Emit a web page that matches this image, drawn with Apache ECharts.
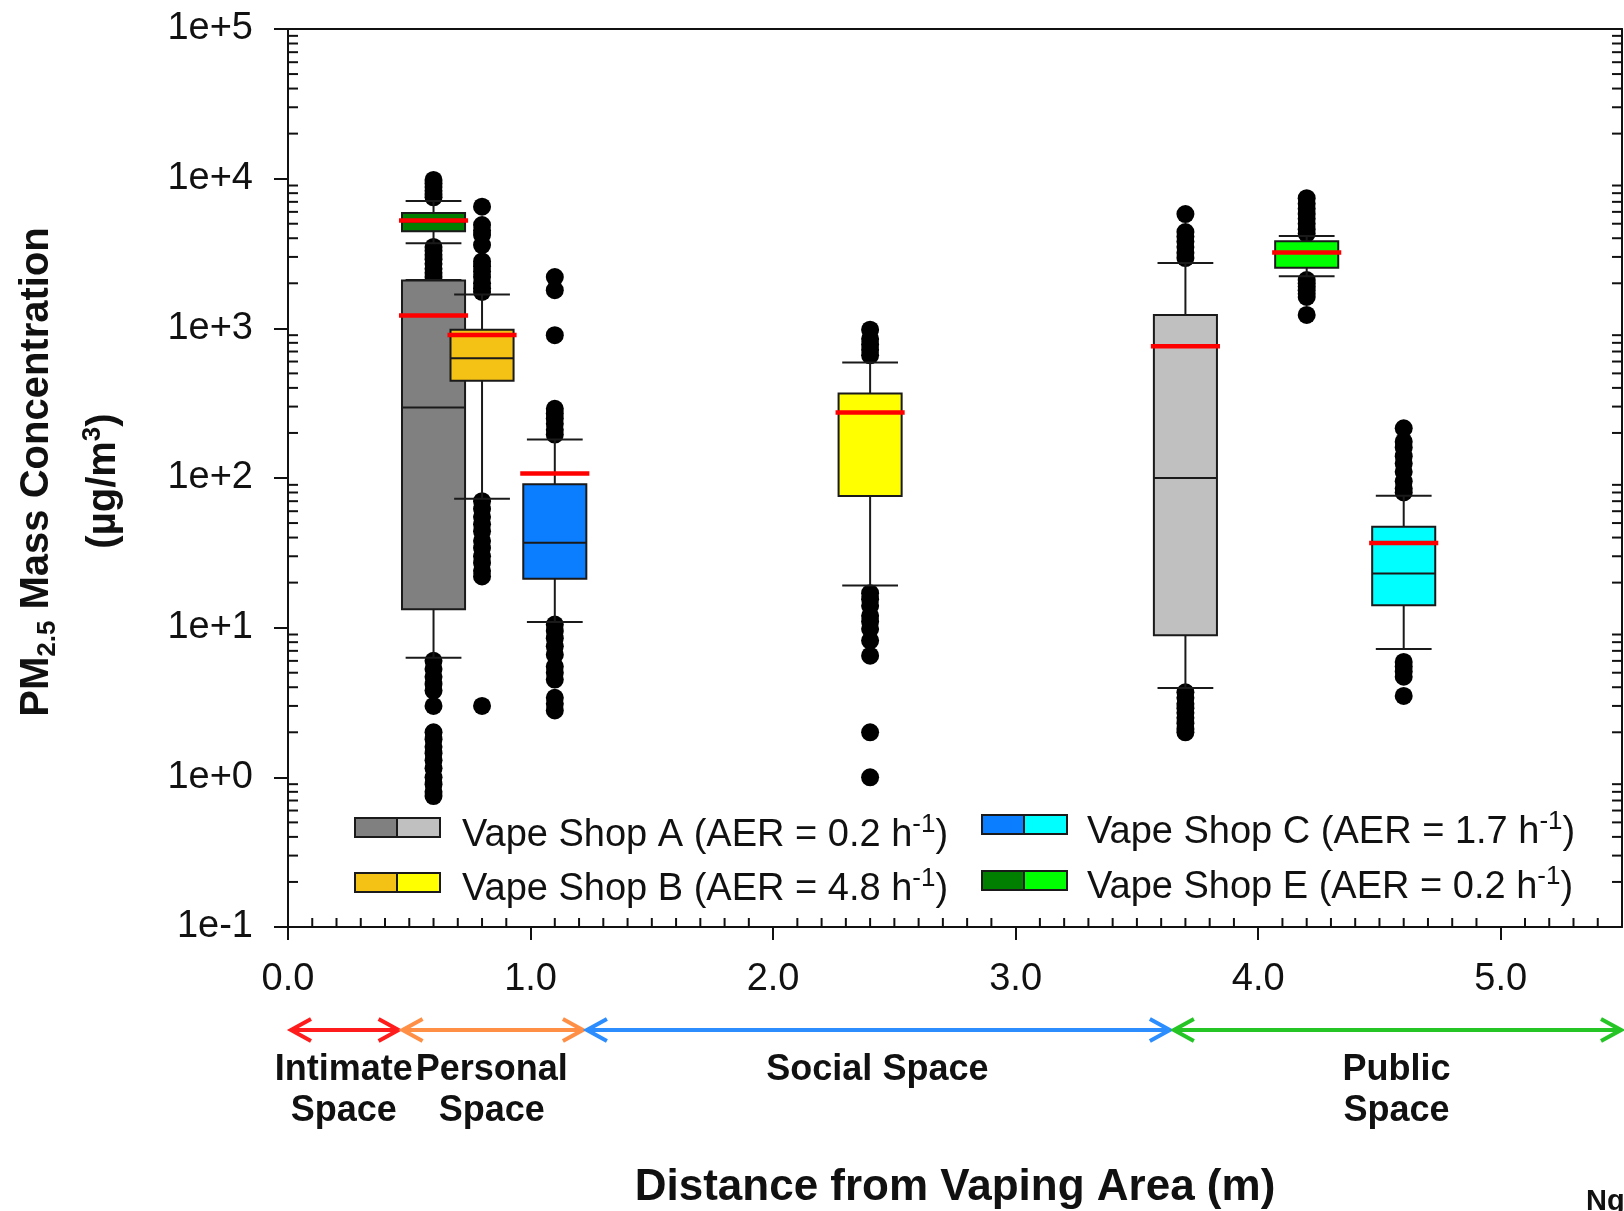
<!DOCTYPE html>
<html><head><meta charset="utf-8">
<script src="https://cdn.jsdelivr.net/npm/echarts@6/dist/echarts.min.js"></script>
<style>html,body{margin:0;padding:0;background:#fff}#c{width:1624px;height:1211px}</style>
</head><body><div id="c"></div>
<script>
// ---------------- data ----------------
const boxNames   = ['Shop A (dark)','Shop B (orange)','Shop C (blue)','Shop B (yellow)','Shop A (light)','Shop E (light)','Shop C (cyan)','Shop E (dark)'];
const boxX       = [0.6, 0.8, 1.1, 2.4, 3.7, 4.2, 4.6, 0.6];
const whiskerLow = [6.3, 72.7, 10.9, 19.1, 3.95, 2225, 7.2, 3700];
const q1         = [13.3, 446, 21.2, 75.7, 8.9, 2540, 14.1, 4450];
const median     = [296, 630, 36.9, 272, 100, 3200, 23, 5150];
const q3         = [2090, 980, 90.7, 367, 1230, 3820, 47.2, 5900];
const whiskerHigh= [2100, 1680, 181, 592, 2730, 4140, 76.2, 7100];
const mean       = [1220, 902, 107, 274, 760, 3210, 36.8, 5250];

const outAdark  = [6.0, 5.3, 4.7, 4.2, 3.8, 3.0, 2.0, 1.8, 1.6, 1.45, 1.3, 1.15, 1.0, 0.9, 0.8, 0.75];
const outBorange= [6500, 4900, 4500, 4200, 3600, 2800, 2600, 2400, 2200, 2000, 1850, 1750, 70, 62, 55, 49, 44, 38, 34, 30, 27, 24, 22, 3.0];
const outCblue  = [2200, 1800, 900, 290, 270, 250, 230, 210, 195, 10.5, 9.5, 8.5, 7.5, 6.6, 5.5, 5.0, 4.5, 3.4, 3.1, 2.8];
const outByellow= [980, 850, 780, 720, 660, 17, 15.5, 14, 12, 11, 9.8, 8.2, 6.5, 2.0, 1.0];
const outAlight = [5800, 4400, 4100, 3800, 3500, 3200, 2950, 3.7, 3.4, 3.1, 2.9, 2.7, 2.5, 2.3, 2.1, 2.0];
const outElight = [7400, 6800, 6300, 5800, 5400, 5000, 4600, 4300, 2100, 2000, 1900, 1800, 1700, 1620, 1230];
const outCcyan  = [215, 175, 160, 140, 125, 110, 95, 85, 80, 5.9, 5.5, 5.1, 4.7, 3.5];
const outEdark  = [9800, 9300, 8800, 8300, 7900, 7500, 3500, 3300, 3100, 2900, 2700, 2500, 2350, 2200, 2080, 2000];
const outlierSets = [outAdark, outBorange, outCblue, outByellow, outAlight, outElight, outCcyan, outEdark];

const legendShops = ['Vape Shop A', 'Vape Shop B', 'Vape Shop C', 'Vape Shop E'];
const legendAER   = ['0.2', '4.8', '1.7', '0.2'];

const xTickValues = [0, 1, 2, 3, 4, 5];
const xTickLabels = ['0.0', '1.0', '2.0', '3.0', '4.0', '5.0'];
const yTickExp    = [-1, 0, 1, 2, 3, 4, 5];
const yTickLabels = ['1e-1', '1e+0', '1e+1', '1e+2', '1e+3', '1e+4', '1e+5'];

const zoneNames = ['Intimate\nSpace', 'Personal\nSpace', 'Social Space', 'Public\nSpace'];
const zoneStart = [0, 0.46, 1.22, 3.64];
const zoneEnd   = [0.46, 1.22, 3.64, 5.5];

// ---------------- styles ----------------
const boxColors = ['#808080', '#f4c115', '#0b7dff', '#ffff00', '#c0c0c0', '#00ff00', '#00ffff', '#007f00'];
const legendDark  = ['#808080', '#f4c115', '#0b7dff', '#007f00'];
const legendLight = ['#c0c0c0', '#ffff00', '#00ffff', '#00ff00'];
const zoneColors = ['#ff1c1c', '#ff8f45', '#2c8dff', '#25c525'];
const FONT = '"Liberation Sans", Arial, Helvetica, sans-serif';
const INK = '#111';
const X_MIN = 0, X_MAX = 5.5, Y_MIN = 0.1, Y_MAX = 100000;
const BOX_W = 0.26, CAP_W = 0.23, MEAN_W = 0.285;

const yMinorTicks = [];
for (let e = -1; e <= 4; e++) for (let m = 2; m <= 9; m++) yMinorTicks.push(m * Math.pow(10, e));
const xMinorTicks = [];
for (let k = 1; k < 55; k++) if (k % 10) xMinorTicks.push(k / 10);

const boxData = boxX.map((x, i) => [x, whiskerLow[i], q1[i], median[i], q3[i], whiskerHigh[i], mean[i]]);
const outlierData = [];
outlierSets.forEach((set, i) => set.forEach(v => outlierData.push([boxX[i], v])));

function renderBox(params, api) {
  const i = params.dataIndex;
  const x = api.value(0);
  const py = v => api.coord([x, v])[1];
  const px = dx => api.coord([x + dx, 1])[0];
  const cx = px(0), xl = px(-BOX_W / 2), xr = px(BOX_W / 2);
  const cl = px(-CAP_W / 2), cr = px(CAP_W / 2), ml = px(-MEAN_W / 2), mr = px(MEAN_W / 2);
  const yLw = py(api.value(1)), yQ1 = py(api.value(2)), yMed = py(api.value(3));
  const yQ3 = py(api.value(4)), yHw = py(api.value(5)), yMean = py(api.value(6));
  const ls = { stroke: '#1a1a1a', lineWidth: 2 };
  return { type: 'group', children: [
    { type: 'line', shape: { x1: cx, y1: yQ3, x2: cx, y2: yHw }, style: ls },
    { type: 'line', shape: { x1: cx, y1: yQ1, x2: cx, y2: yLw }, style: ls },
    { type: 'line', shape: { x1: cl, y1: yHw, x2: cr, y2: yHw }, style: ls },
    { type: 'line', shape: { x1: cl, y1: yLw, x2: cr, y2: yLw }, style: ls },
    { type: 'rect', shape: { x: xl, y: yQ3, width: xr - xl, height: yQ1 - yQ3 }, style: { fill: boxColors[i], stroke: '#1a1a1a', lineWidth: 2 } },
    { type: 'line', shape: { x1: xl, y1: yMed, x2: xr, y2: yMed }, style: ls },
    { type: 'line', shape: { x1: ml, y1: yMean, x2: mr, y2: yMean }, style: { stroke: '#ff0000', lineWidth: 4.5 } }
  ]};
}

function renderYMinor(params, api) {
  const v = api.value(1);
  const a = api.coord([X_MIN, v]), b = api.coord([X_MAX, v]);
  const s = { stroke: INK, lineWidth: 2 };
  return { type: 'group', children: [
    { type: 'line', shape: { x1: a[0], y1: a[1], x2: a[0] + 10, y2: a[1] }, style: s },
    { type: 'line', shape: { x1: b[0] - 10, y1: b[1], x2: b[0], y2: b[1] }, style: s }
  ]};
}
function renderXMinor(params, api) {
  const p = api.coord([api.value(0), Y_MIN]);
  return { type: 'line', shape: { x1: p[0], y1: p[1], x2: p[0], y2: p[1] - 9 }, style: { stroke: INK, lineWidth: 2 } };
}

const axisLS = { color: INK, width: 2 };
const chart = echarts.init(document.getElementById('c'), null, { renderer: 'canvas' });
const option = {
  backgroundColor: '#ffffff',
  animation: false,
  grid: { left: 288, right: 2, top: 29, bottom: 284, containLabel: false, outerBoundsMode: 'none' },
  xAxis: [
    { type: 'value', min: X_MIN, max: X_MAX, interval: 1, position: 'bottom',
      axisLine: { show: true, onZero: false, lineStyle: axisLS },
      axisTick: { show: true, inside: false, length: 13, lineStyle: axisLS, customValues: xTickValues },
      axisLabel: { customValues: xTickValues, margin: 34, fontSize: 38, fontFamily: FONT, color: INK,
        formatter: v => { const k = xTickValues.indexOf(Math.round(v * 10) / 10); return k >= 0 ? xTickLabels[k] : ''; } },
      splitLine: { show: false } },
    { type: 'value', min: X_MIN, max: X_MAX, position: 'top',
      axisLine: { show: true, onZero: false, lineStyle: axisLS },
      axisTick: { show: false }, axisLabel: { show: false }, splitLine: { show: false } }
  ],
  yAxis: [
    { type: 'log', logBase: 10, min: Y_MIN, max: Y_MAX, position: 'left',
      axisLine: { show: true, onZero: false, lineStyle: axisLS },
      axisTick: { show: true, inside: false, length: 14, lineStyle: axisLS },
      axisLabel: { margin: 35, fontSize: 38, fontFamily: FONT, color: INK,
        formatter: v => { const k = yTickExp.indexOf(Math.round(Math.log10(v))); return k >= 0 ? yTickLabels[k] : ''; } },
      splitLine: { show: false }, minorTick: { show: false } },
    { type: 'log', logBase: 10, min: Y_MIN, max: Y_MAX, position: 'right',
      axisLine: { show: true, onZero: false, lineStyle: axisLS },
      axisTick: { show: false }, axisLabel: { show: false }, splitLine: { show: false } }
  ],
  series: [
    { type: 'scatter', xAxisIndex: 0, yAxisIndex: 0, data: outlierData, symbol: 'circle', symbolSize: 18,
      itemStyle: { color: '#000', opacity: 1 }, z: 2, silent: true },
    { type: 'custom', xAxisIndex: 0, yAxisIndex: 0, data: boxData, renderItem: renderBox,
      encode: { x: 0, y: [1, 2, 3, 4, 5, 6] }, z: 3, silent: true, clip: false },
    { type: 'custom', xAxisIndex: 0, yAxisIndex: 0, data: yMinorTicks.map(v => [X_MIN, v]), renderItem: renderYMinor,
      encode: { x: 0, y: 1 }, z: 4, silent: true, clip: false },
    { type: 'custom', xAxisIndex: 0, yAxisIndex: 0, data: xMinorTicks.map(v => [v, Y_MIN]), renderItem: renderXMinor,
      encode: { x: 0, y: 1 }, z: 4, silent: true, clip: false }
  ]
};
chart.setOption(option);

// ---------------- annotations ----------------
const graphics = [];
const T = (fs, bold) => ({ fontSize: fs, fontFamily: FONT, fontWeight: bold ? 'bold' : 'normal', fill: INK });

// y axis title
graphics.push({ type: 'text', x: 37, y: 472, rotation: Math.PI / 2, z: 10,
  style: { text: '{b|PM}{s|2.5}{b| Mass Concentration}', textAlign: 'center', textVerticalAlign: 'middle',
    rich: { b: Object.assign(T(40, true), { lineHeight: 48 }), s: Object.assign(T(26, true), { lineHeight: 26, verticalAlign: 'bottom' }) } } });
graphics.push({ type: 'text', x: 104, y: 481, rotation: Math.PI / 2, z: 10,
  style: { text: '{b|(\u00b5g/m}{p|3}{b|)}', textAlign: 'center', textVerticalAlign: 'middle',
    rich: { b: Object.assign(T(40, true), { lineHeight: 48 }), p: Object.assign(T(26, true), { lineHeight: 26, verticalAlign: 'top' }) } } });
// x axis title
graphics.push({ type: 'text', x: 955, y: 1188, z: 10,
  style: Object.assign(T(44, true), { text: 'Distance from Vaping Area (m)', textAlign: 'center', textVerticalAlign: 'middle' }) });
graphics.push({ type: 'text', x: 1586, y: 1187, z: 10,
  style: Object.assign(T(29, true), { text: 'Ng', textAlign: 'left', textVerticalAlign: 'top' }) });

// legend
const legPos = [[355, 818, 462, 836], [355, 873, 462, 890], [982, 815, 1087, 833], [982, 871, 1087, 888]];
legendShops.forEach((name, i) => {
  const [sx, sy, tx, ty] = legPos[i];
  graphics.push({ type: 'rect', shape: { x: sx, y: sy, width: 42, height: 19 }, style: { fill: legendDark[i], stroke: '#1a1a1a', lineWidth: 2 }, z: 10 });
  graphics.push({ type: 'rect', shape: { x: sx + 42, y: sy, width: 43, height: 19 }, style: { fill: legendLight[i], stroke: '#1a1a1a', lineWidth: 2 }, z: 10 });
  graphics.push({ type: 'text', x: tx, y: ty, z: 10,
    style: { text: '{t|' + name + ' (AER = ' + legendAER[i] + ' h}{p|-1}{t|)}', textAlign: 'left', textVerticalAlign: 'middle',
      rich: { t: Object.assign(T(38, false), { lineHeight: 48 }), p: Object.assign(T(26, false), { lineHeight: 26, verticalAlign: 'top' }) } } });
});

// proxemic zones
const ZY = 1030, AL = 20, AH = 11;
zoneNames.forEach((name, i) => {
  const xs = chart.convertToPixel({ xAxisIndex: 0 }, zoneStart[i]) + 3;
  const xe = chart.convertToPixel({ xAxisIndex: 0 }, zoneEnd[i]) - 1;
  const st = { stroke: zoneColors[i], lineWidth: 4, fill: null };
  graphics.push({ type: 'polyline', shape: { points: [[xs, ZY], [xe, ZY]] }, style: st, z: 10 });
  graphics.push({ type: 'polyline', shape: { points: [[xs + AL, ZY - AH], [xs, ZY], [xs + AL, ZY + AH]] }, style: st, z: 10 });
  graphics.push({ type: 'polyline', shape: { points: [[xe - AL, ZY - AH], [xe, ZY], [xe - AL, ZY + AH]] }, style: st, z: 10 });
  const cx = (chart.convertToPixel({ xAxisIndex: 0 }, zoneStart[i]) + chart.convertToPixel({ xAxisIndex: 0 }, zoneEnd[i])) / 2;
  graphics.push({ type: 'text', x: cx, y: 1050, z: 10,
    style: Object.assign(T(36, true), { text: name, textAlign: 'center', textVerticalAlign: 'top', lineHeight: 41 }) });
});

chart.setOption({ graphic: graphics });
</script>
</body></html>
